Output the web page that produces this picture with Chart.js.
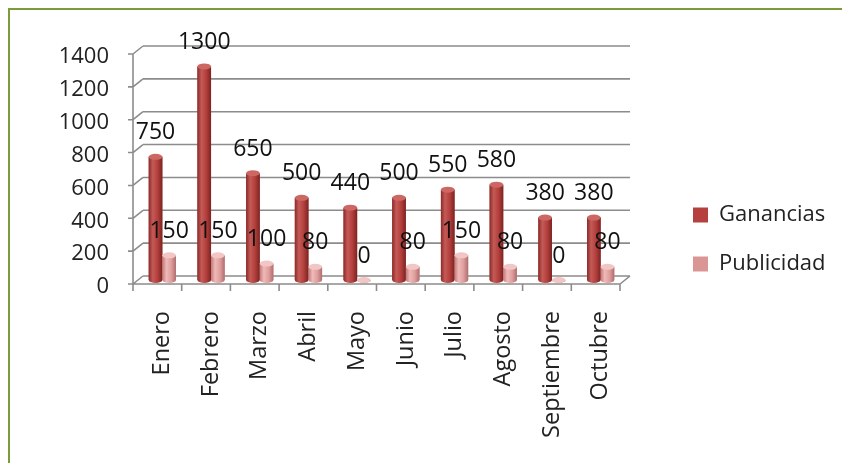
<!DOCTYPE html>
<html>
<head>
<meta charset="utf-8">
<script src="https://cdn.jsdelivr.net/npm/chart.js@4.4.1/dist/chart.umd.min.js"></script>
<style>
  html, body { margin: 0; padding: 0; background: #ffffff; }
  #wrap { position: relative; width: 842px; height: 463px; overflow: hidden; }
  #c { position: absolute; left: 0; top: 0; }
  #frame { position: absolute; left: 8px; top: 8px; width: 900px; height: 500px;
           border-top: 2.5px solid #7A9C3A; border-left: 2.5px solid #7A9C3A; pointer-events: none; }
</style>
</head>
<body>
<div id="wrap">
  <canvas id="c" width="842" height="463"></canvas>
  <div id="frame"></div>
</div>
<script>
const categories = ["Enero", "Febrero", "Marzo", "Abril", "Mayo", "Junio", "Julio", "Agosto", "Septiembre", "Octubre"];
const ganancias = [750, 1300, 650, 500, 440, 500, 550, 580, 380, 380];
const publicidad = [150, 150, 100, 80, 0, 80, 150, 80, 0, 80];
const yTicks = [0, 200, 400, 600, 800, 1000, 1200, 1400];

const FONT = "'Open Sans', 'Noto Sans', sans-serif";

const shades = [
  { stops: ["#8A2B29", "#C45A57", "#B43F3C", "#7A2422"], cap: "#CC6764" },
  { stops: ["#C07A79", "#F0B9B8", "#DE9F9E", "#B06E6D"], cap: "#F2C6C5" }
];

const frame3d = {
  id: 'frame3d',
  beforeDatasetsDraw(chart) {
    const ctx = chart.ctx, ys = chart.scales.y, xs = chart.scales.x;
    const L = xs.left, R = xs.right, n = categories.length;
    const y0 = ys.getPixelForValue(0);
    ctx.save();
    ctx.strokeStyle = '#8C8C8C';
    ctx.lineWidth = 1.6;
    ctx.beginPath();
    yTicks.forEach(v => {
      const py = ys.getPixelForValue(v);
      ctx.moveTo(L + 5, py - 4); ctx.lineTo(R + 5, py - 4);
      ctx.moveTo(L - 5, py + 4); ctx.lineTo(L + 5, py - 4);
      ctx.moveTo(L - 10, py + 4); ctx.lineTo(L - 5, py + 4);
    });
    const pTop = ys.getPixelForValue(yTicks[yTicks.length - 1]);
    ctx.moveTo(L - 5, y0 + 4); ctx.lineTo(L - 5, pTop + 4);
    ctx.moveTo(L - 5, y0 + 4); ctx.lineTo(R - 5, y0 + 4);
    ctx.lineTo(R + 5, y0 - 4);
    for (let i = 0; i <= n; i++) {
      const px = L - 5 + i * (xs.width / n);
      ctx.moveTo(px, y0 + 4); ctx.lineTo(px, y0 + 11);
    }
    ctx.stroke();
    ctx.restore();
  },
  afterDatasetsDraw(chart) {
    const ctx = chart.ctx;
    ctx.save();
    chart.data.datasets.forEach((ds, di) => {
      const meta = chart.getDatasetMeta(di);
      const sh = shades[di];
      meta.data.forEach(el => {
        const w = el.width, x = el.x - w / 2, top = el.y, base = el.base;
        const ry = w * 0.22;
        const g = ctx.createLinearGradient(x, 0, x + w, 0);
        g.addColorStop(0, sh.stops[0]);
        g.addColorStop(0.3, sh.stops[1]);
        g.addColorStop(0.65, sh.stops[2]);
        g.addColorStop(1, sh.stops[3]);
        ctx.fillStyle = g;
        ctx.beginPath();
        ctx.moveTo(x, top);
        ctx.lineTo(x, base);
        ctx.ellipse(el.x, base, w / 2, ry, 0, Math.PI, 0, true);
        ctx.lineTo(x + w, top);
        ctx.closePath();
        ctx.fill();
        ctx.fillStyle = sh.cap;
        ctx.beginPath();
        ctx.ellipse(el.x, top, w / 2, ry, 0, 0, Math.PI * 2);
        ctx.fill();
      });
    });
    ctx.fillStyle = '#111111';
    ctx.font = '23px ' + FONT;
    ctx.textAlign = 'center';
    ctx.textBaseline = 'middle';
    chart.data.datasets.forEach((ds, di) => {
      const meta = chart.getDatasetMeta(di);
      meta.data.forEach((el, i) => {
        ctx.fillText(String(ds.data[i]), el.x, el.y - 24);
      });
    });
    ctx.restore();
  },
  beforeLayout(chart) {
    const lg = chart.legend;
    if (lg && !lg._patched) {
      const orig = lg.fit;
      lg.fit = function () { orig.call(this); this.width = 217; };
      lg._patched = true;
    }
  },
  afterLayout(chart) {
    const lg = chart.legend;
    if (lg) {
      const h = lg.bottom - lg.top;
      lg.left = 666; lg.right = 842;
      lg.top = 177; lg.bottom = 177 + h;
    }
  }
};

new Chart(document.getElementById('c'), {
  type: 'bar',
  data: {
    labels: categories,
    datasets: [
      { label: 'Ganancias', data: ganancias, backgroundColor: '#B5403E', borderWidth: 0,
        categoryPercentage: 0.56, barPercentage: 1.0 },
      { label: 'Publicidad', data: publicidad, backgroundColor: '#D99694', borderWidth: 0,
        categoryPercentage: 0.56, barPercentage: 1.0 }
    ]
  },
  options: {
    responsive: false,
    animation: false,
    events: [],
    layout: { padding: { top: 50, left: 0, right: 0, bottom: 0 } },
    plugins: {
      legend: {
        display: true,
        position: 'right',
        align: 'start',
        labels: {
          boxWidth: 15, boxHeight: 15, padding: 27,
          color: '#222222',
          font: { family: FONT, size: 22 }
        }
      },
      tooltip: { enabled: false }
    },
    scales: {
      x: {
        grid: { display: false },
        border: { display: false },
        ticks: {
          color: '#222222',
          font: { family: FONT, size: 23.5 },
          minRotation: 90, maxRotation: 90,
          padding: 23,
          autoSkip: false
        },
        afterFit(scale) { scale.height = 183; }
      },
      y: {
        min: 0, max: 1400,
        afterBuildTicks(scale) { scale.ticks = yTicks.map(v => ({ value: v })); },
        grid: { display: false },
        border: { display: false },
        ticks: {
          color: '#222222',
          font: { family: FONT, size: 22 },
          padding: 21,
          labelOffset: 7,
          callback: (v) => String(v)
        },
        afterFit(scale) { scale.width = 138; }
      }
    }
  },
  plugins: [frame3d]
});
</script>
</body>
</html>
